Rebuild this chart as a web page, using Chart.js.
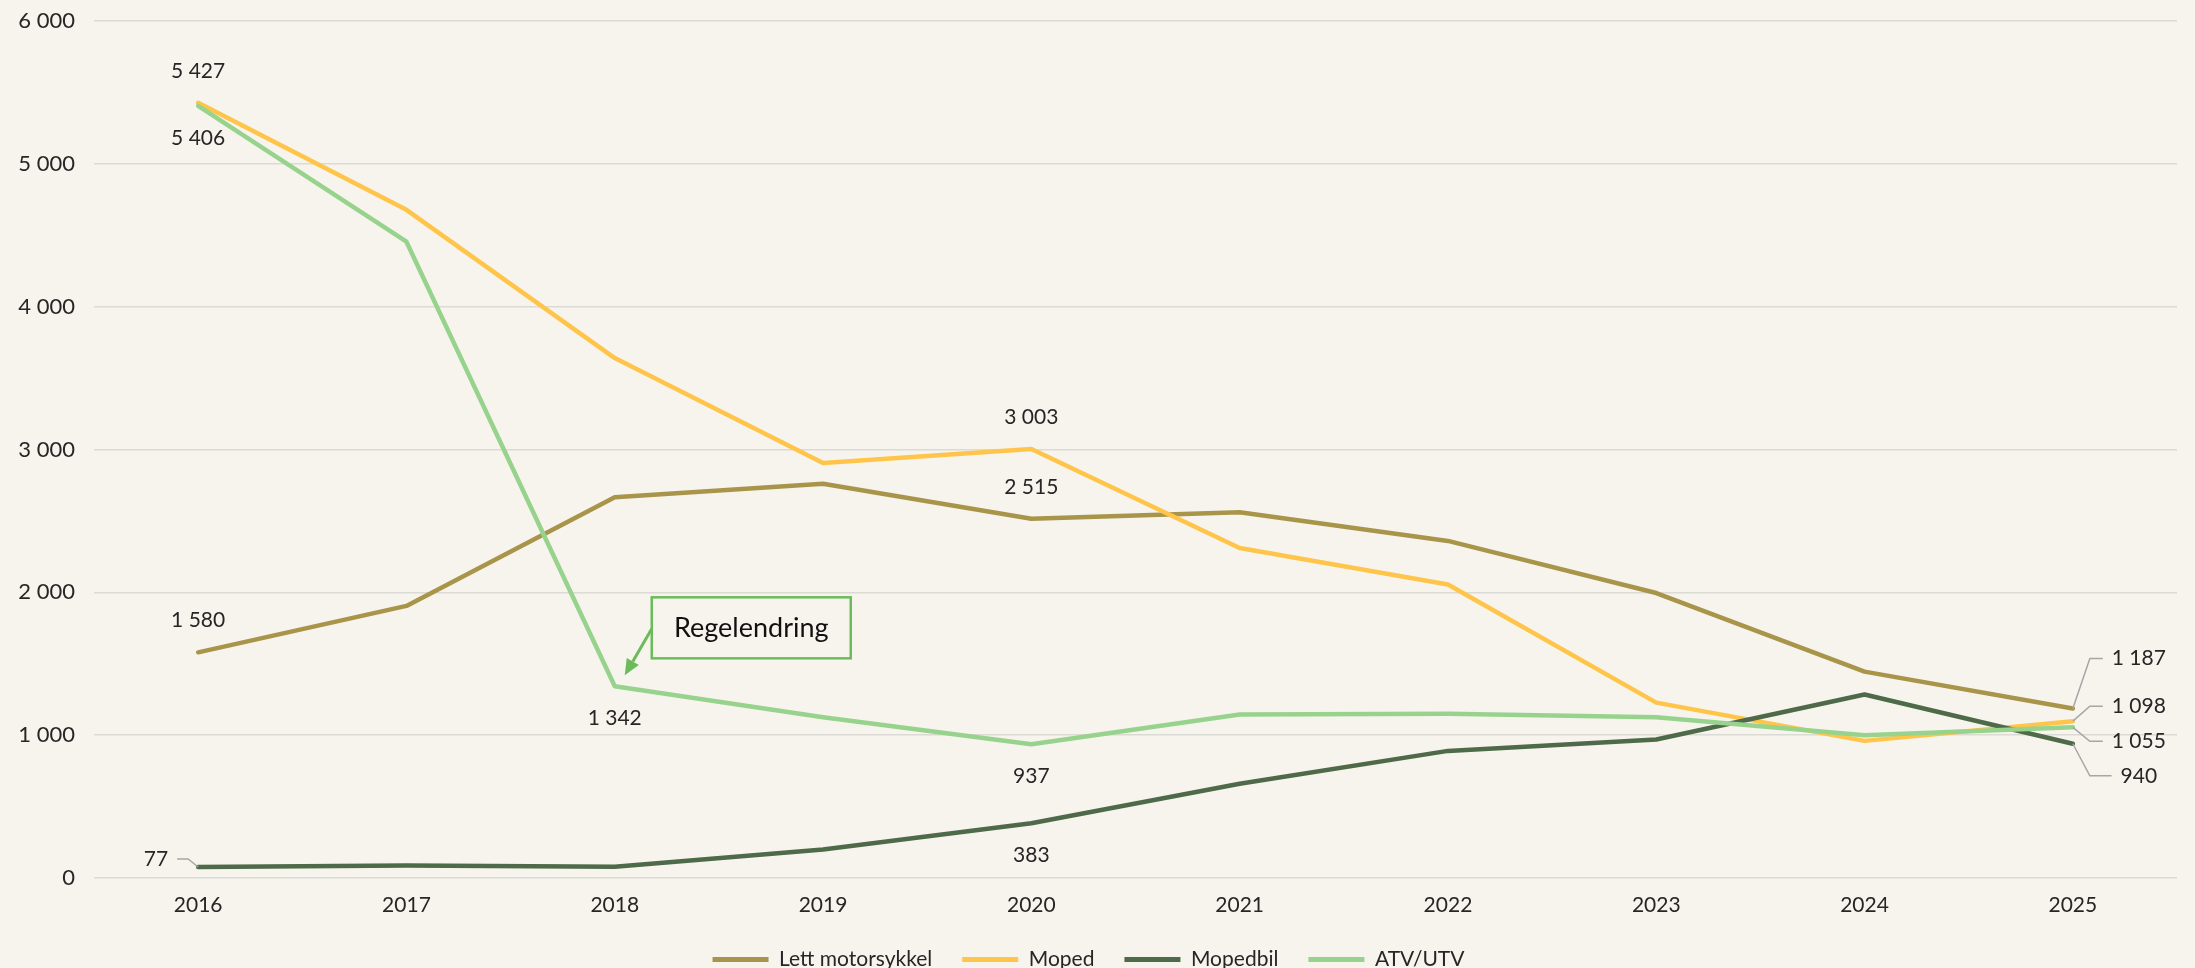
<!DOCTYPE html>
<html>
<head>
<meta charset="utf-8">
<script src="https://cdn.jsdelivr.net/npm/chart.js@4.4.1/dist/chart.umd.min.js"></script>
<style>
  html, body { margin: 0; padding: 0; background: #f7f4ee; }
  #wrap { width: 2195px; height: 968px; }
</style>
</head>
<body>
<div id="wrap"><canvas id="chart"></canvas></div>
<script>
const years = ["2016", "2017", "2018", "2019", "2020", "2021", "2022", "2023", "2024", "2025"];
const lettMotorsykkel = [1580, 1905, 2665, 2760, 2515, 2560, 2360, 1995, 1445, 1187];
const moped = [5427, 4678, 3640, 2905, 3003, 2310, 2055, 1228, 960, 1098];
const mopedbil = [77, 88, 78, 200, 383, 660, 890, 970, 1285, 940];
const atvUtv = [5406, 4455, 1342, 1125, 937, 1145, 1150, 1125, 1000, 1055];
const seriesNames = ["Lett motorsykkel", "Moped", "Mopedbil", "ATV/UTV"];
const seriesColors = ["#a8954a", "#ffc54a", "#4e6a48", "#98d38e"];
const yMax = 6000;
const yStep = 1000;
const noteText = "Regelendring";

// which points carry a value label: [dataset, point, placement, vertical shift]
const pointLabels = [
  [0, 0, "above"], [0, 4, "above"], [0, 9, "right", -50],
  [1, 0, "above"], [1, 4, "above"], [1, 9, "right", -15],
  [2, 0, "left", -8], [2, 4, "below"], [2, 9, "right", 32],
  [3, 0, "below"], [3, 2, "below"], [3, 4, "below"], [3, 9, "right", 14]
];

const FONT = "Lato, 'Noto Sans', sans-serif";
const TEXT = "#262626";

function fmt(v) {
  return String(Math.round(v)).replace(/\B(?=(\d{3})+(?!\d))/g, " ");
}

const valueLabels = {
  id: "valueLabels",
  afterDatasetsDraw(chart) {
    const ctx = chart.ctx;
    ctx.save();
    ctx.font = "21px " + FONT;
    ctx.fillStyle = TEXT;
    ctx.strokeStyle = "#a6a6a6";
    ctx.lineWidth = 1.5;
    pointLabels.forEach(([di, pi, place, shift]) => {
      const pt = chart.getDatasetMeta(di).data[pi];
      const v = chart.data.datasets[di].data[pi];
      const txt = fmt(v);
      ctx.textBaseline = "middle";
      if (place === "above" || place === "below") {
        ctx.textAlign = "center";
        ctx.fillText(txt, pt.x, pt.y + (place === "above" ? -32 : 32));
      } else if (place === "right") {
        const ly = pt.y + shift;
        const cx = pt.x + 66;
        const w = ctx.measureText(txt).width;
        ctx.beginPath();
        ctx.moveTo(pt.x, pt.y);
        ctx.lineTo(pt.x + 17, ly);
        ctx.lineTo(cx - w / 2 - 9, ly);
        ctx.stroke();
        ctx.textAlign = "center";
        ctx.fillText(txt, cx, ly);
      } else {
        const ly = pt.y + shift;
        ctx.beginPath();
        ctx.moveTo(pt.x, pt.y);
        ctx.lineTo(pt.x - 10, ly);
        ctx.lineTo(pt.x - 21, ly);
        ctx.stroke();
        ctx.textAlign = "right";
        ctx.fillText(txt, pt.x - 30, ly);
      }
    });
    ctx.restore();
  }
};

const noteBox = {
  id: "noteBox",
  afterDatasetsDraw(chart) {
    const ctx = chart.ctx;
    const pt = chart.getDatasetMeta(3).data[2];
    const bx = pt.x + 37, by = pt.y - 89, bw = 199, bh = 61;
    ctx.save();
    ctx.strokeStyle = "#6cbb5a";
    ctx.fillStyle = "#f7f4ee";
    ctx.lineWidth = 2.5;
    ctx.fillRect(bx, by, bw, bh);
    ctx.strokeRect(bx, by, bw, bh);
    ctx.fillStyle = "#111";
    ctx.font = "27px " + FONT;
    ctx.textAlign = "center";
    ctx.textBaseline = "middle";
    ctx.fillText(noteText, bx + bw / 2, by + bh / 2);
    // arrow
    const sx = bx, sy = by + bh / 2 + 1;
    const tx = pt.x + 10, ty = pt.y - 11;
    const ang = Math.atan2(ty - sy, tx - sx);
    const hl = 16, hw = 7;
    const bxh = tx - hl * Math.cos(ang), byh = ty - hl * Math.sin(ang);
    ctx.strokeStyle = "#6cbb5a";
    ctx.fillStyle = "#6cbb5a";
    ctx.lineWidth = 3;
    ctx.beginPath();
    ctx.moveTo(sx, sy);
    ctx.lineTo(bxh, byh);
    ctx.stroke();
    ctx.beginPath();
    ctx.moveTo(tx, ty);
    ctx.lineTo(bxh + hw * Math.sin(ang), byh - hw * Math.cos(ang));
    ctx.lineTo(bxh - hw * Math.sin(ang), byh + hw * Math.cos(ang));
    ctx.closePath();
    ctx.fill();
    ctx.restore();
  }
};

const bgPlugin = {
  id: "bg",
  beforeDraw(chart) {
    const ctx = chart.ctx;
    ctx.save();
    ctx.fillStyle = "#f7f4ee";
    ctx.fillRect(0, 0, chart.width, chart.height);
    ctx.restore();
  }
};

const seriesData = [lettMotorsykkel, moped, mopedbil, atvUtv];
const datasets = seriesData.map((d, i) => ({
  label: seriesNames[i],
  data: d,
  borderColor: seriesColors[i],
  backgroundColor: seriesColors[i],
  borderWidth: 4.5,
  pointRadius: 0,
  tension: 0,
  borderJoinStyle: "round",
  borderCapStyle: "round",
  order: seriesData.length - i
}));

new Chart(document.getElementById("chart"), {
  type: "line",
  data: { labels: years, datasets: datasets },
  options: {
    responsive: true,
    maintainAspectRatio: false,
    animation: false,
    layout: { padding: { top: 21, right: 18, left: 0, bottom: 0 } },
    plugins: {
      tooltip: { enabled: false },
      legend: {
        position: "bottom",
        maxHeight: 49,
        labels: {
          font: { family: FONT, size: 21 },
          color: TEXT,
          boxWidth: 56,
          boxHeight: 5,
          padding: 30,
          sort: (a, b) => a.datasetIndex - b.datasetIndex,
          generateLabels(chart) {
            return Chart.defaults.plugins.legend.labels.generateLabels(chart)
              .map(l => Object.assign(l, { lineWidth: 0 }));
          }
        }
      }
    },
    scales: {
      x: {
        offset: true,
        grid: { display: false, drawTicks: false },
        border: { display: false },
        ticks: { font: { family: FONT, size: 21 }, color: TEXT, padding: 15, maxRotation: 0, autoSkip: false },
        afterFit(scale) { scale.height = 41; }
      },
      y: {
        min: 0,
        max: yMax,
        ticks: {
          stepSize: yStep,
          font: { family: FONT, size: 22 },
          color: TEXT,
          padding: 19,
          callback: v => fmt(v)
        },
        grid: { color: "#dcdad5", lineWidth: 1.5, drawTicks: false },
        border: { display: false },
        afterFit(scale) {
          scale.width = 94;
          scale.paddingTop = 0;
          scale.paddingBottom = 0;
        }
      }
    }
  },
  plugins: [bgPlugin, valueLabels, noteBox]
});
</script>
</body>
</html>
